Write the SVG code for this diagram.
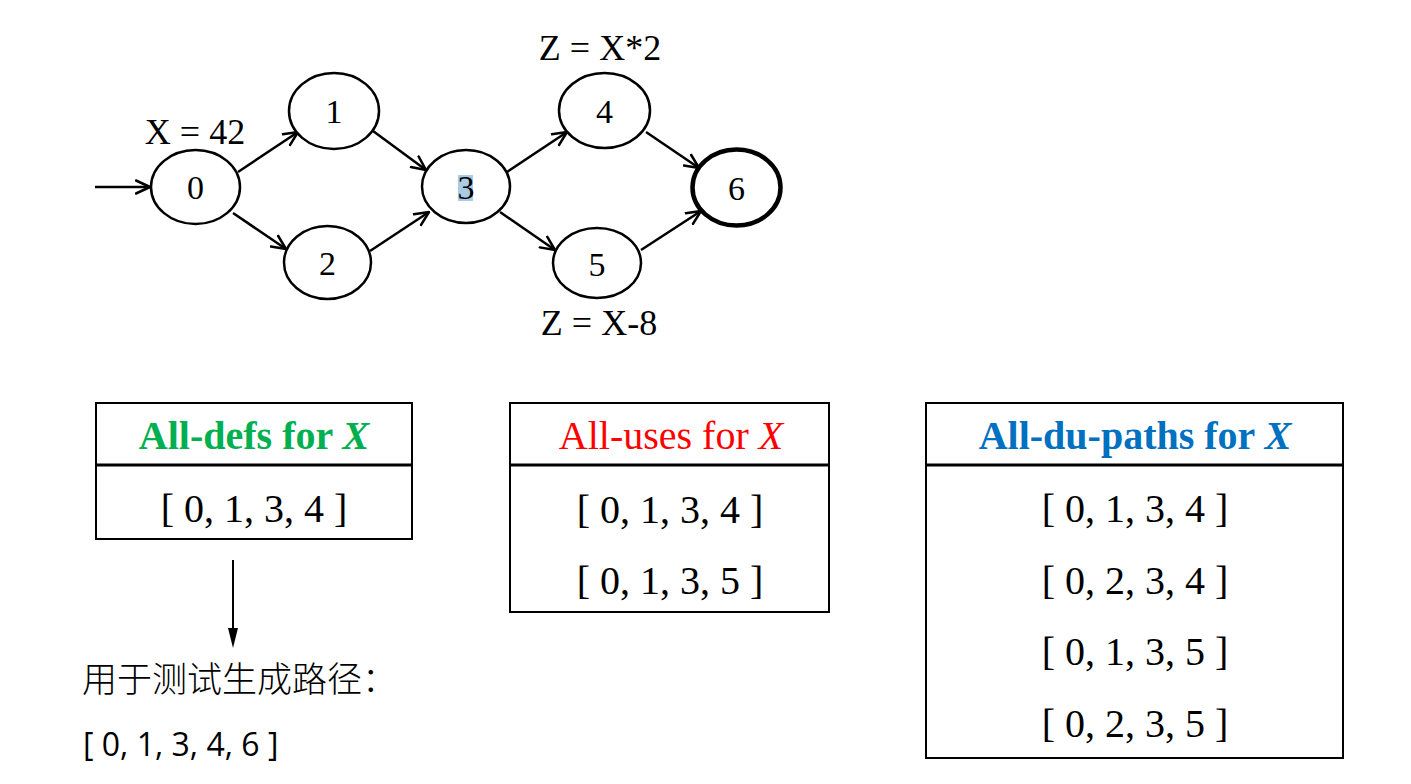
<svg xmlns="http://www.w3.org/2000/svg" width="1411" height="784" viewBox="0 0 1411 784">
<style>
.n{fill:#fff;stroke:#000;stroke-width:2.5}
.t{font-family:"Liberation Serif","Times New Roman",serif;font-size:34px;fill:#000;text-anchor:middle}
.lbl{font-family:"Liberation Serif","Times New Roman",serif;font-size:36px;fill:#000;text-anchor:middle}
.e{fill:none;stroke:#000;stroke-width:2.5;marker-end:url(#ah)}
.box{fill:#fff;stroke:#000;stroke-width:2}
.div{stroke:#000;stroke-width:3}
.hd{font-family:"Liberation Serif","Times New Roman",serif;font-size:40px;text-anchor:middle}
.row{font-family:"Liberation Serif","Times New Roman",serif;font-size:40px;fill:#000;text-anchor:middle}
</style>
<defs>
<marker id="ah" viewBox="0 0 16 16" refX="15" refY="8" markerWidth="16" markerHeight="16" markerUnits="userSpaceOnUse" orient="auto">
<path d="M1,1.5 L15,8 L1,14.5" fill="none" stroke="#000" stroke-width="2.5" stroke-linecap="round" stroke-linejoin="round"/>
</marker>
</defs>

<g id="connectors">
<line class="e" x1="95" y1="187" x2="150" y2="187"/>
<line class="e" x1="238" y1="172" x2="298" y2="132"/>
<line class="e" x1="233" y1="213" x2="286" y2="249"/>
<line class="e" x1="373" y1="131" x2="426" y2="170"/>
<line class="e" x1="370" y1="251" x2="429" y2="212"/>
<line class="e" x1="507" y1="172" x2="567" y2="132"/>
<line class="e" x1="500" y1="212" x2="555" y2="250"/>
<line class="e" x1="646" y1="132" x2="699" y2="168"/>
<line class="e" x1="641" y1="250" x2="701" y2="211"/>
<line x1="233" y1="560" x2="233" y2="630" stroke="#000" stroke-width="2"/>
<path d="M228,628 L238,628 L233,648 Z" fill="#000"/>
</g>

<g id="node0"><ellipse class="n" cx="195.5" cy="187" rx="44.5" ry="37"/><text class="t" x="195.5" y="199">0</text></g>
<g id="node1"><ellipse class="n" cx="334" cy="111" rx="45" ry="38"/><text class="t" x="334" y="123">1</text></g>
<g id="node2"><ellipse class="n" cx="327.5" cy="262.5" rx="43.5" ry="36.5"/><text class="t" x="327.5" y="275">2</text></g>
<g id="node3"><ellipse class="n" cx="466" cy="186.5" rx="44" ry="36.5"/><rect x="458" y="175" width="15" height="26" fill="#a9cbe3"/><text class="t" x="466" y="199">3</text></g>
<g id="node4"><ellipse class="n" cx="604.5" cy="110.5" rx="45.5" ry="37.5"/><text class="t" x="604.5" y="123">4</text></g>
<g id="node5"><ellipse class="n" cx="597" cy="263" rx="44" ry="35"/><text class="t" x="597" y="276">5</text></g>
<g id="node6"><ellipse cx="736.5" cy="187.5" rx="44" ry="38" fill="#fff" stroke="#000" stroke-width="4.5"/><text class="t" x="736.5" y="200">6</text></g>

<g id="labels">
<text class="lbl" x="195" y="144">X = 42</text>
<text class="lbl" x="600" y="60">Z = X*2</text>
<text class="lbl" x="599" y="335">Z = X-8</text>
</g>

<g id="table-alldefs">
<rect class="box" x="96" y="403" width="316" height="136"/>
<line class="div" x1="96" y1="465" x2="412" y2="465"/>
<text class="hd" x="254" y="449" fill="#00b050" font-weight="bold">All-defs for <tspan font-style="italic">X</tspan></text>
<text class="row" x="254" y="522">[ 0, 1, 3, 4 ]</text>
</g>

<g id="table-alluses">
<rect class="box" x="510" y="403" width="319" height="209"/>
<line class="div" x1="510" y1="465" x2="829" y2="465"/>
<text class="hd" x="671" y="449" fill="#ff0000" font-size="41">All-uses for <tspan font-style="italic">X</tspan></text>
<text class="row" x="670" y="523">[ 0, 1, 3, 4 ]</text>
<text class="row" x="670" y="594">[ 0, 1, 3, 5 ]</text>
</g>

<g id="table-alldupaths">
<rect class="box" x="926" y="403" width="417" height="355"/>
<line class="div" x1="926" y1="465" x2="1343" y2="465"/>
<text class="hd" x="1135" y="449" fill="#0070c0" font-weight="bold">All-du-paths for <tspan font-style="italic">X</tspan></text>
<text class="row" x="1135" y="522">[ 0, 1, 3, 4 ]</text>
<text class="row" x="1135" y="594">[ 0, 2, 3, 4 ]</text>
<text class="row" x="1135" y="665">[ 0, 1, 3, 5 ]</text>
<text class="row" x="1135" y="737">[ 0, 2, 3, 5 ]</text>
</g>

<g id="result">
<text x="82" y="692" font-family="'Noto Sans CJK SC',sans-serif" font-size="35" font-weight="300" fill="#000">用于测试生成路径：</text>
<text x="83" y="756" font-family="'Open Sans','Liberation Sans',sans-serif" font-size="32" fill="#000">[ 0, 1, 3, 4, 6 ]</text>
</g>
</svg>
